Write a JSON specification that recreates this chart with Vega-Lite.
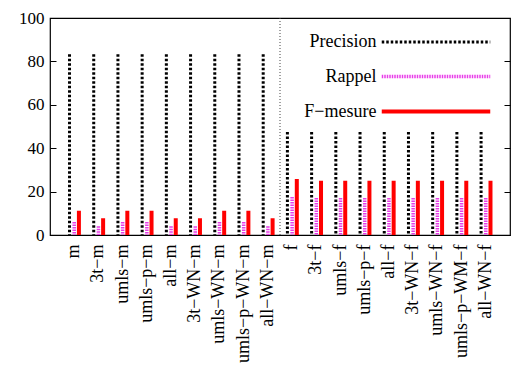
{
  "$schema": "https://vega.github.io/schema/vega-lite/v6.json",
  "width": 460,
  "height": 217,
  "autosize": {"type": "none"},
  "padding": {"left": 50, "top": 18, "right": 1, "bottom": 134},
  "background": "white",
  "config": {
    "view": {"stroke": "black", "strokeWidth": 1.2},
    "font": "Liberation Serif, Times New Roman, serif",
    "axis": {"grid": false, "domain": false, "labelFont": "Liberation Serif, Times New Roman, serif", "labelFontSize": 17, "labelColor": "black", "tickColor": "black", "title": null},
    "legend": {"symbolType": "M-4.4,0H4.4", "symbolSize": 608, "labelAlign": "right", "labelOffset": -74, "labelFont": "Liberation Serif, Times New Roman, serif", "labelFontSize": 18, "labelColor": "black", "rowPadding": 11, "padding": 0, "labelLimit": 300}
  },
  "data": {
    "values": [
      {"name": "m", "Precision": 83.3, "Rappel": 6.0, "F−mesure": 11.2},
      {"name": "3t−m", "Precision": 83.3, "Rappel": 4.0, "F−mesure": 7.7},
      {"name": "umls−m", "Precision": 83.3, "Rappel": 6.0, "F−mesure": 11.2},
      {"name": "umls−p−m", "Precision": 83.3, "Rappel": 6.0, "F−mesure": 11.2},
      {"name": "all−m", "Precision": 83.3, "Rappel": 4.0, "F−mesure": 7.7},
      {"name": "3t−WN−m", "Precision": 83.3, "Rappel": 4.0, "F−mesure": 7.7},
      {"name": "umls−WN−m", "Precision": 83.3, "Rappel": 6.0, "F−mesure": 11.2},
      {"name": "umls−p−WN−m", "Precision": 83.3, "Rappel": 6.0, "F−mesure": 11.2},
      {"name": "all−WN−m", "Precision": 83.3, "Rappel": 4.0, "F−mesure": 7.7},
      {"name": "f", "Precision": 47.5, "Rappel": 17.5, "F−mesure": 25.8},
      {"name": "3t−f", "Precision": 47.5, "Rappel": 17.0, "F−mesure": 25.0},
      {"name": "umls−f", "Precision": 47.5, "Rappel": 17.0, "F−mesure": 25.0},
      {"name": "umls−p−f", "Precision": 47.5, "Rappel": 17.0, "F−mesure": 25.0},
      {"name": "all−f", "Precision": 47.5, "Rappel": 17.0, "F−mesure": 25.0},
      {"name": "3t−WN−f", "Precision": 47.5, "Rappel": 17.0, "F−mesure": 25.0},
      {"name": "umls−WN−f", "Precision": 47.5, "Rappel": 17.0, "F−mesure": 25.0},
      {"name": "umls−p−WM−f", "Precision": 47.5, "Rappel": 17.0, "F−mesure": 25.0},
      {"name": "all−WN−f", "Precision": 47.5, "Rappel": 17.0, "F−mesure": 25.0}
    ]
  },
  "transform": [{"fold": ["Precision", "Rappel", "F−mesure"], "as": ["series", "value"]}],
  "resolve": {"axis": {"y": "independent"}},
  "encoding": {
    "x": {"field": "name", "type": "nominal",
          "scale": {"domain": ["m", "3t−m", "umls−m", "umls−p−m", "all−m", "3t−WN−m", "umls−WN−m", "umls−p−WN−m", "all−WN−m", "f", "3t−f", "umls−f", "umls−p−f", "all−f", "3t−WN−f", "umls−WN−f", "umls−p−WM−f", "all−WN−f"], "paddingInner": 0, "paddingOuter": 0.5},
          "axis": {"labelAngle": -90, "ticks": false, "labelPadding": 9, "labelFontSize": 18}}
  },
  "layer": [
    {
      "data": {"values": [{"name": "f"}]},
      "transform": [],
      "mark": {"type": "rule", "strokeDash": [1, 2], "color": "#444444", "strokeWidth": 1},
      "encoding": {
        "x": {"field": "name", "type": "nominal", "bandPosition": 0,
              "axis": {"labelAngle": -90, "ticks": false, "labelPadding": 9, "labelFontSize": 18}}
      }
    },
    {
      "transform": [{"filter": "datum.series === 'Precision'"}],
      "mark": {"type": "rule", "xOffset": -4.7},
      "encoding": {
        "y": {"field": "value", "type": "quantitative", "scale": {"domain": [0, 100], "nice": false},
              "axis": {"orient": "left", "values": [0, 20, 40, 60, 80, 100], "tickSize": -6, "labelPadding": 12}},
        "y2": {"datum": 0},
        "color": {"field": "series", "type": "nominal",
                  "scale": {"domain": ["Precision", "Rappel", "F−mesure"], "range": ["#000000", "#e83ce8", "#ff0000"]},
                  "legend": {"orient": "none", "legendX": 371.5, "legendY": 10, "title": null}},
        "strokeDash": {"field": "series", "type": "nominal",
                       "scale": {"domain": ["Precision", "Rappel", "F−mesure"], "range": [[2.5, 2], [1.5, 1], [1, 0]]},
                       "legend": {"orient": "none", "legendX": 371.5, "legendY": 10, "title": null}},
        "strokeWidth": {"field": "series", "type": "nominal",
                        "scale": {"type": "point", "padding": 0, "domain": ["Precision", "Rappel", "F−mesure"], "range": [3, 4]},
                        "legend": {"orient": "none", "legendX": 371.5, "legendY": 10, "title": null}}
      }
    },
    {
      "transform": [{"filter": "datum.series === 'Rappel'"}],
      "mark": {"type": "rule", "xOffset": 0},
      "encoding": {
        "y": {"field": "value", "type": "quantitative",
              "axis": {"orient": "right", "values": [0, 20, 40, 60, 80, 100], "tickSize": -6, "labels": false}},
        "y2": {"datum": 0},
        "color": {"field": "series", "type": "nominal"},
        "strokeDash": {"field": "series", "type": "nominal"},
        "strokeWidth": {"field": "series", "type": "nominal"}
      }
    },
    {
      "transform": [{"filter": "datum.series === 'F−mesure'"}],
      "mark": {"type": "rule", "xOffset": 4.7},
      "encoding": {
        "y": {"field": "value", "type": "quantitative", "axis": null},
        "y2": {"datum": 0},
        "color": {"field": "series", "type": "nominal"},
        "strokeDash": {"field": "series", "type": "nominal"},
        "strokeWidth": {"field": "series", "type": "nominal"}
      }
    }
  ]
}
